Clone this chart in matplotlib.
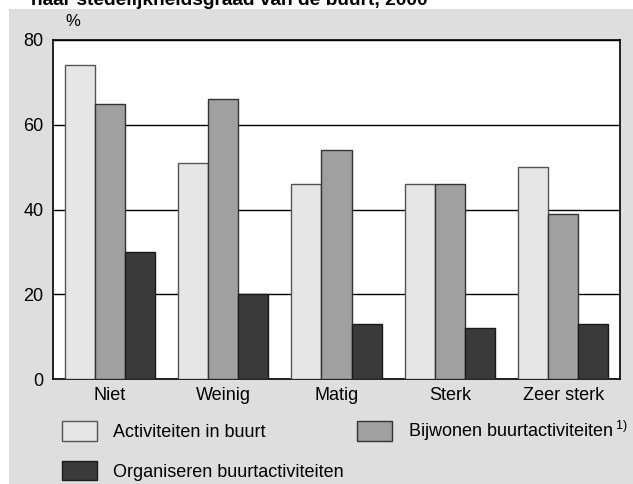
import matplotlib

matplotlib.use("Agg")
import matplotlib.pyplot as plt
import numpy as np
from matplotlib.patches import Rectangle

plt.rcParams["font.family"] = ["Liberation Sans", "DejaVu Sans"]
plt.rcParams["mathtext.fontset"] = "custom"
plt.rcParams["mathtext.rm"] = "Liberation Sans"

# data
categories = ["Niet", "Weinig", "Matig", "Sterk", "Zeer sterk"]
activiteiten = [74, 51, 46, 46, 50]
bijwonen = [65, 66, 54, 46, 39]
organiseren = [30, 20, 13, 12, 13]
series_labels = [
    "Activiteiten in buurt",
    "Bijwonen buurtactiviteiten$\\,^{\\mathrm{1)}}$",
    "Organiseren buurtactiviteiten",
]
y_ticks = [0, 20, 40, 60, 80]
title = "naar stedelijkheidsgraad van de buurt, 2000"

_PANEL = "#dedede"
_FILLS = ["#e6e6e6", "#a0a0a0", "#3a3a3a"]
_EDGES = ["#555555", "#333333", "#1a1a1a"]

W, H = 633, 484
fig = plt.figure(figsize=(W / 100, H / 100), dpi=100, facecolor="white")

# grey panel behind everything except a thin white strip at top/left
fig.patches.append(Rectangle((9 / W, 0), 1 - 9 / W, 1 - 9 / H,
                             transform=fig.transFigure, facecolor=_PANEL,
                             edgecolor="none", zorder=-5))

# clipped title (only the lower part is visible in the source)
fig.text(31 / W, 1 - 5 / H, title, fontsize=13.8, fontweight="bold",
         ha="left", va="baseline", color="black", zorder=-4)

ax = fig.add_axes([53 / W, 1 - 379 / H, 567 / W, 339 / H], zorder=2)
ax.set_facecolor("white")

x = np.arange(len(categories))
bar_w = 0.265
all_series = [activiteiten, bijwonen, organiseren]
bars = []
for i, vals in enumerate(all_series):
    b = ax.bar(x + (i - 1) * bar_w, vals, width=bar_w, color=_FILLS[i],
               edgecolor=_EDGES[i], linewidth=1.0, zorder=3,
               label=series_labels[i])
    bars.append(b)

ax.set_xlim(-0.5, len(categories) - 0.5)
ax.set_ylim(0, 80)
ax.set_yticks(y_ticks)
ax.set_xticks(x)
ax.set_xticklabels(categories)
ax.tick_params(axis="both", length=0, labelsize=13, colors="black")
ax.tick_params(axis="y", pad=7)
ax.tick_params(axis="x", pad=6)
ax.yaxis.grid(True, color="black", linewidth=1.0)
ax.set_axisbelow(True)
for s in ax.spines.values():
    s.set_color("black")
    s.set_linewidth(1.2)

fig.text(73 / W, 1 - 22 / H, "%", fontsize=12, ha="center", va="center")

# legend: row 1 Activiteiten / Bijwonen, row 2 Organiseren
handles = [bars[0], bars[2], bars[1]]
labels = [series_labels[0], series_labels[2], series_labels[1]]
fig.legend(handles, labels, loc="upper left",
           bbox_to_anchor=(62 / W, 1 - 419 / H), ncol=2, frameon=False,
           fontsize=13, handlelength=1.94, handleheight=1.27,
           handletextpad=0.89, labelspacing=1.1, columnspacing=0.72,
           borderaxespad=0, borderpad=0)

fig.savefig("out.png", dpi=100, facecolor="white")
